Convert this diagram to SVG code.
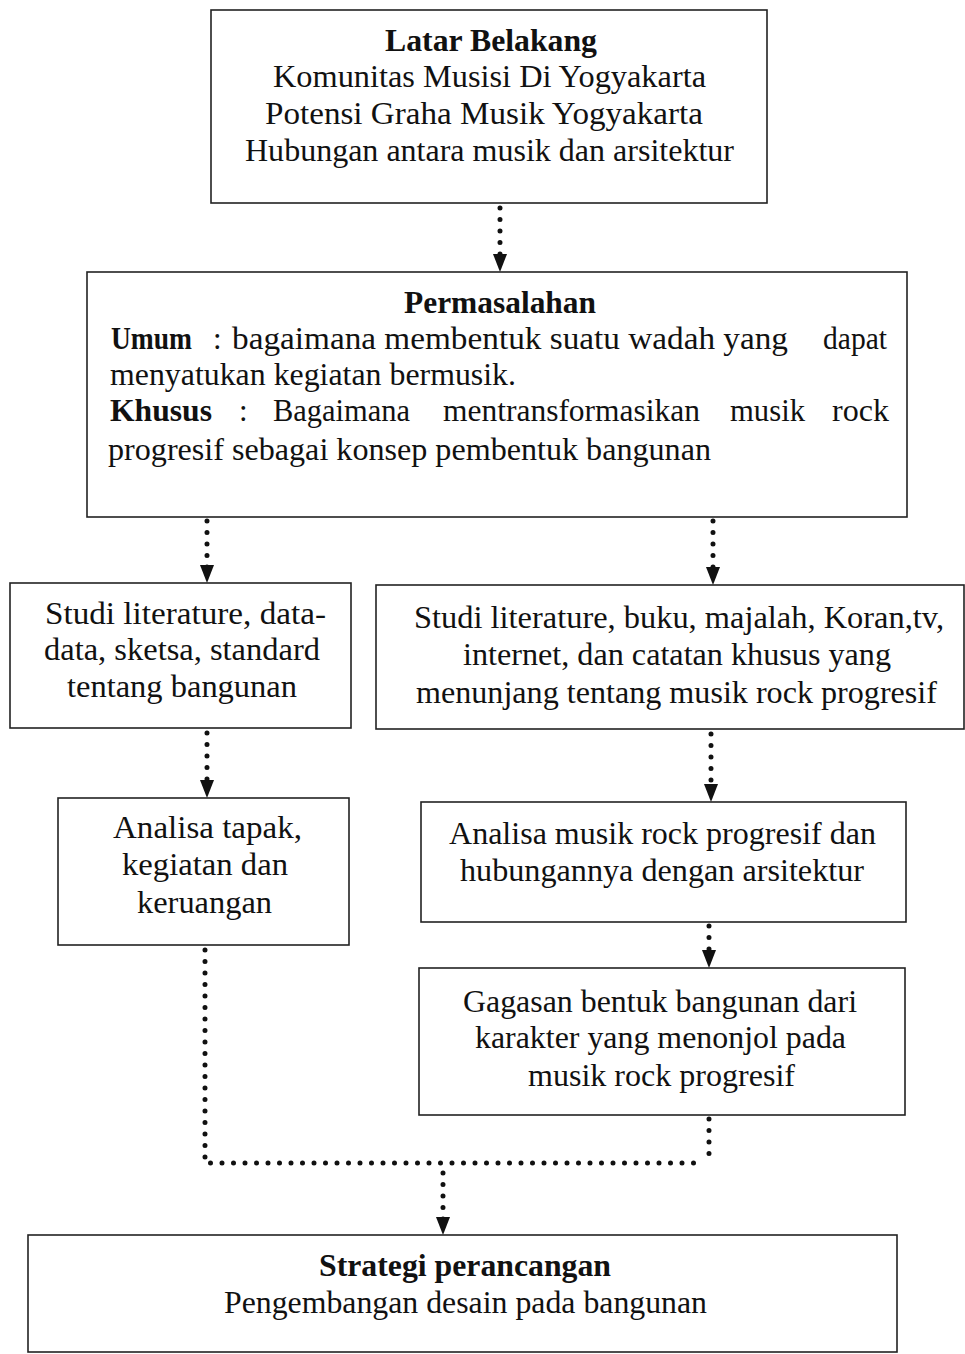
<svg xmlns="http://www.w3.org/2000/svg" width="965" height="1354" viewBox="0 0 965 1354">
<style>
.box{fill:#fff;stroke:#222;stroke-width:1.6}
.t{font-family:'Liberation Serif','Times New Roman',Times,serif;font-size:31px;fill:#111}
.b{font-weight:bold}
.m{text-anchor:middle}
.dot{fill:none;stroke:#111;stroke-width:5;stroke-linecap:round;stroke-dasharray:0 11.5}
.ah{fill:#111}
</style>
<rect width="965" height="1354" fill="#fff"/>
<g id="connectors">
<path class="dot" d="M500 208 V258"/><polygon class="ah" points="493,254 507,254 500,272"/>
<path class="dot" d="M207 521 V568"/><polygon class="ah" points="200,565 214,565 207,583"/>
<path class="dot" d="M713 521 V570"/><polygon class="ah" points="706,567 720,567 713,585"/>
<path class="dot" d="M207 733 V783"/><polygon class="ah" points="200,780 214,780 207,798"/>
<path class="dot" d="M711 734 V787"/><polygon class="ah" points="704,784 718,784 711,802"/>
<path class="dot" d="M709 926 V953"/><polygon class="ah" points="702,950 716,950 709,968"/>
<path class="dot" d="M205 950 V1163 H700"/>
<path class="dot" d="M709 1119 V1155"/>
<path class="dot" d="M443 1173 V1220"/><polygon class="ah" points="436,1217 450,1217 443,1235"/>
</g>
<g id="latar">
<rect class="box" x="211" y="10" width="556" height="193"/>
<text class="t b m" x="491" y="51" textLength="212" lengthAdjust="spacingAndGlyphs">Latar Belakang</text>
<text class="t m" x="489.5" y="87" textLength="433" lengthAdjust="spacingAndGlyphs">Komunitas Musisi Di Yogyakarta</text>
<text class="t m" x="484" y="124" textLength="438" lengthAdjust="spacingAndGlyphs">Potensi Graha Musik Yogyakarta</text>
<text class="t m" x="489.5" y="161" textLength="489" lengthAdjust="spacingAndGlyphs">Hubungan antara musik dan arsitektur</text>
</g>
<g id="permasalahan">
<rect class="box" x="87" y="272" width="820" height="245"/>
<text class="t b m" x="500" y="313" textLength="192" lengthAdjust="spacingAndGlyphs">Permasalahan</text>
<text class="t b" x="111" y="349" textLength="81" lengthAdjust="spacingAndGlyphs">Umum</text>
<text class="t" x="213" y="349">:</text>
<text class="t" x="232" y="349" textLength="556" lengthAdjust="spacingAndGlyphs">bagaimana membentuk suatu wadah yang</text>
<text class="t" x="823" y="349" textLength="64" lengthAdjust="spacingAndGlyphs">dapat</text>
<text class="t" x="110" y="385" textLength="406" lengthAdjust="spacingAndGlyphs">menyatukan kegiatan bermusik.</text>
<text class="t b" x="110" y="421" textLength="102" lengthAdjust="spacingAndGlyphs">Khusus</text>
<text class="t" x="239" y="421">:</text>
<text class="t" x="273" y="421" textLength="137" lengthAdjust="spacingAndGlyphs">Bagaimana</text>
<text class="t" x="443" y="421" textLength="257" lengthAdjust="spacingAndGlyphs">mentransformasikan</text>
<text class="t" x="730" y="421" textLength="75" lengthAdjust="spacingAndGlyphs">musik</text>
<text class="t" x="832" y="421" textLength="57" lengthAdjust="spacingAndGlyphs">rock</text>
<text class="t" x="108" y="460" textLength="603" lengthAdjust="spacingAndGlyphs">progresif sebagai konsep pembentuk bangunan</text>
</g>
<g id="studi-bangunan">
<rect class="box" x="10" y="583" width="341" height="145"/>
<text class="t m" x="185.5" y="624" textLength="281" lengthAdjust="spacingAndGlyphs">Studi literature, data-</text>
<text class="t m" x="182" y="660" textLength="276" lengthAdjust="spacingAndGlyphs">data, sketsa, standard</text>
<text class="t m" x="182" y="697" textLength="230" lengthAdjust="spacingAndGlyphs">tentang bangunan</text>
</g>
<g id="studi-musik">
<rect class="box" x="376" y="585" width="588" height="144"/>
<text class="t m" x="679" y="628" textLength="530" lengthAdjust="spacingAndGlyphs">Studi literature, buku, majalah, Koran,tv,</text>
<text class="t m" x="677" y="665" textLength="428" lengthAdjust="spacingAndGlyphs">internet, dan catatan khusus yang</text>
<text class="t m" x="676.5" y="703" textLength="521" lengthAdjust="spacingAndGlyphs">menunjang tentang musik rock progresif</text>
</g>
<g id="analisa-tapak">
<rect class="box" x="58" y="798" width="291" height="147"/>
<text class="t m" x="207.5" y="838" textLength="189" lengthAdjust="spacingAndGlyphs">Analisa tapak,</text>
<text class="t m" x="205" y="875" textLength="166" lengthAdjust="spacingAndGlyphs">kegiatan dan</text>
<text class="t m" x="204.5" y="913" textLength="135" lengthAdjust="spacingAndGlyphs">keruangan</text>
</g>
<g id="analisa-musik">
<rect class="box" x="421" y="802" width="485" height="120"/>
<text class="t m" x="662.5" y="844" textLength="427" lengthAdjust="spacingAndGlyphs">Analisa musik rock progresif dan</text>
<text class="t m" x="662" y="881" textLength="404" lengthAdjust="spacingAndGlyphs">hubungannya dengan arsitektur</text>
</g>
<g id="gagasan">
<rect class="box" x="419" y="968" width="486" height="147"/>
<text class="t m" x="660" y="1012" textLength="394" lengthAdjust="spacingAndGlyphs">Gagasan bentuk bangunan dari</text>
<text class="t m" x="660.5" y="1048" textLength="371" lengthAdjust="spacingAndGlyphs">karakter yang menonjol pada</text>
<text class="t m" x="661.5" y="1086" textLength="267" lengthAdjust="spacingAndGlyphs">musik rock progresif</text>
</g>
<g id="strategi">
<rect class="box" x="28" y="1235" width="869" height="117"/>
<text class="t b m" x="465" y="1276" textLength="292" lengthAdjust="spacingAndGlyphs">Strategi perancangan</text>
<text class="t m" x="465.5" y="1313" textLength="483" lengthAdjust="spacingAndGlyphs">Pengembangan desain pada bangunan</text>
</g>
</svg>
